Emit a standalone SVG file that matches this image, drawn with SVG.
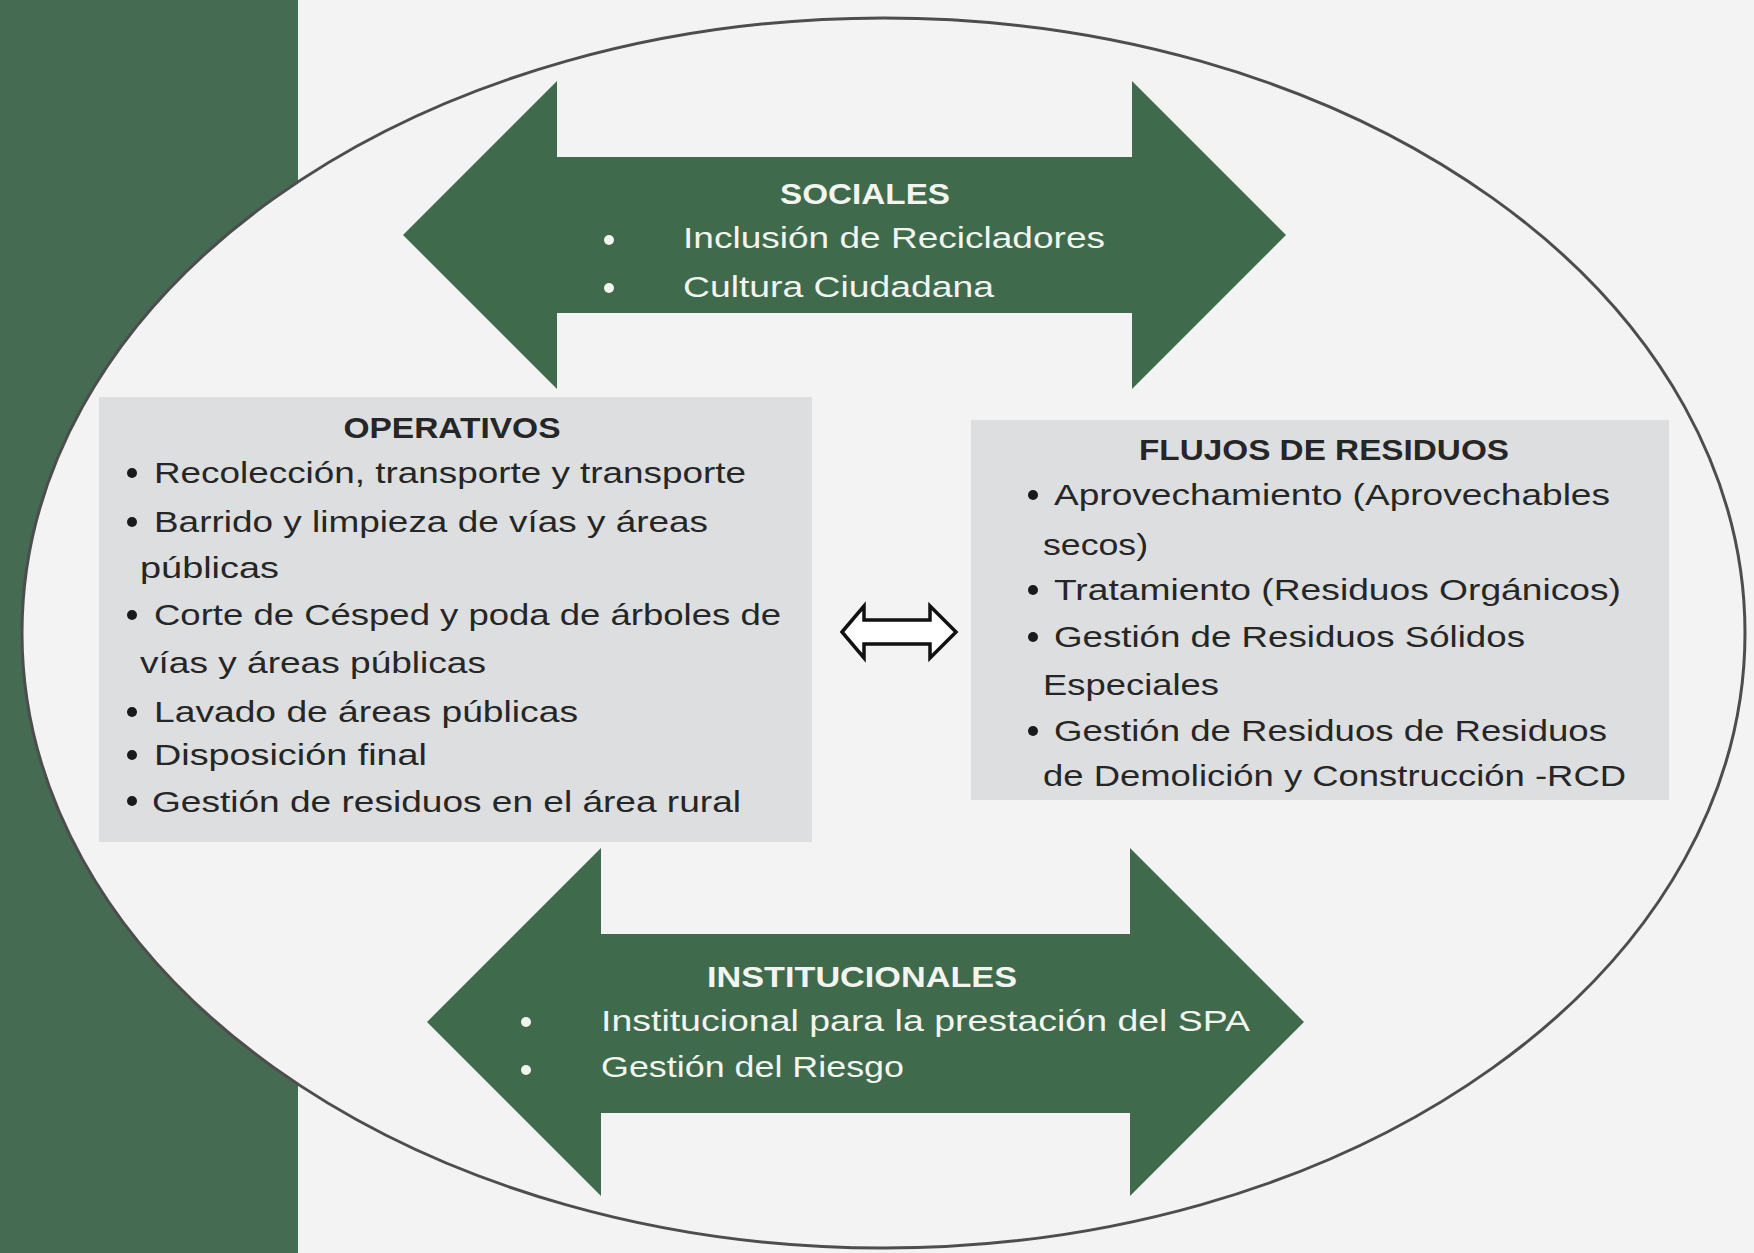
<svg xmlns="http://www.w3.org/2000/svg" width="1754" height="1253" viewBox="0 0 1754 1253">
<style>
.bg{fill:#f3f3f3}
.bar{fill:#456b53}
.big{fill:#3f6a4c}
.box{fill:#dcdee0}
.t{font-family:"Liberation Sans",Arial,sans-serif;font-size:30px}
.h{font-family:"Liberation Sans",Arial,sans-serif;font-size:30px;font-weight:bold}
.w{fill:#f2f4f0}
.d{fill:#262626}
.bw{fill:#f2f4f0}
.bd{fill:#1a1a1a}
</style>
<rect class="bg" x="0" y="0" width="1754" height="1253"/>
<rect class="bar" x="0" y="0" width="298" height="1253"/>
<ellipse cx="883.5" cy="633" rx="861.5" ry="615" fill="#f3f3f3" stroke="#4d4d4d" stroke-width="3"/>

<g id="connectors">
<polygon points="842,632 864,606 864,620 930,620 930,606 956,632 930,658 930,644 864,644 864,658" fill="#ffffff" stroke="#111111" stroke-width="3.5" stroke-linejoin="miter"/>
</g>

<g id="sociales">
<polygon class="big" points="403,235 557,81 557,157 1132,157 1132,81 1286,235 1132,389 1132,313 557,313 557,389"/>
<text class="h w" x="865" y="204" text-anchor="middle" textLength="170" lengthAdjust="spacingAndGlyphs">SOCIALES</text>
<circle class="bw" cx="609" cy="240" r="5"/>
<circle class="bw" cx="609" cy="288" r="5"/>
<text class="t w" x="683" y="248" textLength="422" lengthAdjust="spacingAndGlyphs">Inclusión de Recicladores</text>
<text class="t w" x="683" y="297" textLength="311" lengthAdjust="spacingAndGlyphs">Cultura Ciudadana</text>
</g>

<g id="operativos">
<rect class="box" x="99" y="397" width="713" height="445"/>
<text class="h d" x="452" y="438" text-anchor="middle" textLength="217" lengthAdjust="spacingAndGlyphs">OPERATIVOS</text>
<circle class="bd" cx="132" cy="473" r="5"/>
<circle class="bd" cx="132" cy="522" r="5"/>
<circle class="bd" cx="132" cy="615" r="5"/>
<circle class="bd" cx="132" cy="712" r="5"/>
<circle class="bd" cx="132" cy="755" r="5"/>
<circle class="bd" cx="132" cy="801" r="5"/>
<text class="t d" x="154" y="483" textLength="592" lengthAdjust="spacingAndGlyphs">Recolección, transporte y transporte</text>
<text class="t d" x="154" y="532" textLength="554" lengthAdjust="spacingAndGlyphs">Barrido y limpieza de vías y áreas</text>
<text class="t d" x="140" y="578" textLength="139" lengthAdjust="spacingAndGlyphs">públicas</text>
<text class="t d" x="154" y="625" textLength="627" lengthAdjust="spacingAndGlyphs">Corte de Césped y poda de árboles de</text>
<text class="t d" x="140" y="673" textLength="346" lengthAdjust="spacingAndGlyphs">vías y áreas públicas</text>
<text class="t d" x="154" y="722" textLength="424" lengthAdjust="spacingAndGlyphs">Lavado de áreas públicas</text>
<text class="t d" x="154" y="765" textLength="273" lengthAdjust="spacingAndGlyphs">Disposición final</text>
<text class="t d" x="152" y="812" textLength="589" lengthAdjust="spacingAndGlyphs">Gestión de residuos en el área rural</text>
</g>

<g id="flujos">
<rect class="box" x="971" y="420" width="698" height="380"/>
<text class="h d" x="1324" y="460" text-anchor="middle" textLength="370" lengthAdjust="spacingAndGlyphs">FLUJOS DE RESIDUOS</text>
<circle class="bd" cx="1033" cy="495" r="5"/>
<circle class="bd" cx="1033" cy="590" r="5"/>
<circle class="bd" cx="1033" cy="637" r="5"/>
<circle class="bd" cx="1033" cy="731" r="5"/>
<text class="t d" x="1054" y="505" textLength="556" lengthAdjust="spacingAndGlyphs">Aprovechamiento (Aprovechables</text>
<text class="t d" x="1043" y="555" textLength="105" lengthAdjust="spacingAndGlyphs">secos)</text>
<text class="t d" x="1054" y="600" textLength="567" lengthAdjust="spacingAndGlyphs">Tratamiento (Residuos Orgánicos)</text>
<text class="t d" x="1054" y="647" textLength="471" lengthAdjust="spacingAndGlyphs">Gestión de Residuos Sólidos</text>
<text class="t d" x="1043" y="695" textLength="176" lengthAdjust="spacingAndGlyphs">Especiales</text>
<text class="t d" x="1054" y="741" textLength="553" lengthAdjust="spacingAndGlyphs">Gestión de Residuos de Residuos</text>
<text class="t d" x="1043" y="786" textLength="583" lengthAdjust="spacingAndGlyphs">de Demolición y Construcción -RCD</text>
</g>

<g id="institucionales">
<polygon class="big" points="427,1022 601,848 601,934 1130,934 1130,848 1304,1022 1130,1196 1130,1113 601,1113 601,1196"/>
<text class="h w" x="862" y="987" text-anchor="middle" textLength="310" lengthAdjust="spacingAndGlyphs">INSTITUCIONALES</text>
<circle class="bw" cx="526" cy="1022" r="5"/>
<circle class="bw" cx="526" cy="1070" r="5"/>
<text class="t w" x="601" y="1031" textLength="649" lengthAdjust="spacingAndGlyphs">Institucional para la prestación del SPA</text>
<text class="t w" x="601" y="1077" textLength="303" lengthAdjust="spacingAndGlyphs">Gestión del Riesgo</text>
</g>
</svg>
